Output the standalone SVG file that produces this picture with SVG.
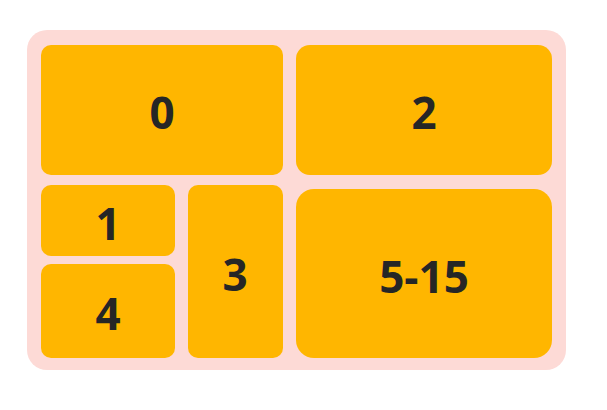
<svg xmlns="http://www.w3.org/2000/svg" width="607" height="410" viewBox="0 0 607 410">
<style>
.box{fill:#FFB600;}
.lbl{font-family:"Open Sans","Noto Sans",sans-serif;font-weight:700;font-size:44px;fill:#262626;text-anchor:middle;}
</style>
<rect width="607" height="410" fill="#ffffff"/>
<rect id="container" x="27" y="30" width="539" height="340" rx="20" fill="#FDDAD6"/>
<g id="n0"><rect class="box" x="41" y="45" width="242" height="130" rx="10"/><text class="lbl" x="162" y="129">0</text></g>
<g id="n2"><rect class="box" x="296" y="45" width="256" height="130" rx="14"/><text class="lbl" x="424" y="129">2</text></g>
<g id="n1"><rect class="box" x="41" y="185" width="134" height="71" rx="10"/><text class="lbl" x="108" y="240">1</text></g>
<g id="n4"><rect class="box" x="41" y="264" width="134" height="94" rx="10"/><text class="lbl" x="108" y="330">4</text></g>
<g id="n3"><rect class="box" x="188" y="185" width="95" height="173" rx="10"/><text class="lbl" x="235" y="291">3</text></g>
<g id="n5"><rect class="box" x="296" y="189" width="256" height="169" rx="18"/><text class="lbl" x="424" y="293">5-15</text></g>
<g id="connectors"></g>
</svg>
